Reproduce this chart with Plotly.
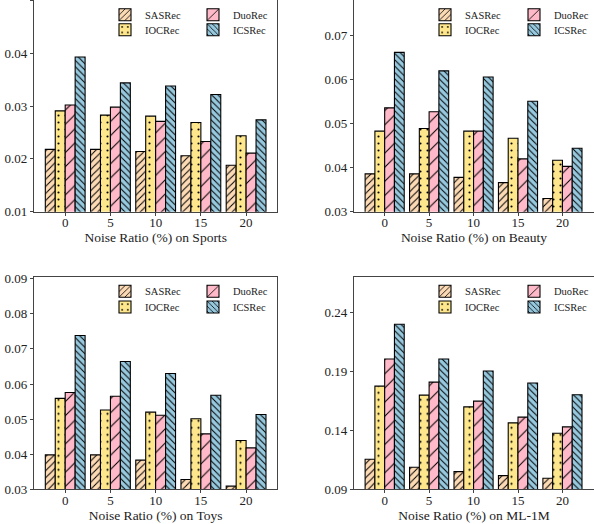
import plotly.graph_objects as go

noise_ratios = ["0", "5", "10", "15", "20"]
methods = ["SASRec", "IOCRec", "DuoRec", "ICSRec"]

sports = {
    "SASRec": [0.0218, 0.0218, 0.0214, 0.0206, 0.0188],
    "IOCRec": [0.0291, 0.0283, 0.0281, 0.0269, 0.0244],
    "DuoRec": [0.0302, 0.0298, 0.0271, 0.0233, 0.0211],
    "ICSRec": [0.0393, 0.0344, 0.0338, 0.0322, 0.0274],
}
beauty = {
    "SASRec": [0.0386, 0.0386, 0.0378, 0.0366, 0.0330],
    "IOCRec": [0.0483, 0.0489, 0.0483, 0.0467, 0.0417],
    "DuoRec": [0.0536, 0.0527, 0.0483, 0.0420, 0.0403],
    "ICSRec": [0.0662, 0.0620, 0.0606, 0.0551, 0.0444],
}
toys = {
    "SASRec": [0.0398, 0.0398, 0.0383, 0.0328, 0.0309],
    "IOCRec": [0.0559, 0.0526, 0.0520, 0.0501, 0.0439],
    "DuoRec": [0.0576, 0.0565, 0.0511, 0.0458, 0.0418],
    "ICSRec": [0.0738, 0.0664, 0.0630, 0.0568, 0.0513],
}
ml1m = {
    "SASRec": [0.1155, 0.1087, 0.1050, 0.1016, 0.0994],
    "IOCRec": [0.1776, 0.1700, 0.1600, 0.1464, 0.1376],
    "DuoRec": [0.2006, 0.1810, 0.1649, 0.1513, 0.1430],
    "ICSRec": [0.2301, 0.2006, 0.1904, 0.1802, 0.1703],
}

datasets = [("Sports", sports), ("Beauty", beauty), ("Toys", toys), ("ML-1M", ml1m)]
y_ranges = [[0.01, 0.0501], [0.03, 0.0781], [0.03, 0.0904], [0.09, 0.270]]
y_tick0 = [0.01, 0.03, 0.03, 0.09]
y_dtick = [0.01, 0.01, 0.01, 0.05]

colors = {"SASRec": "#FCDAB4", "IOCRec": "#FDE68C", "DuoRec": "#FFB9C8", "ICSRec": "#96C8DE"}
patterns = {
    "SASRec": dict(shape="/", size=5, solidity=0.2),
    "IOCRec": dict(shape=".", size=7, solidity=0.07),
    "DuoRec": dict(shape="/", size=10, solidity=0.1),
    "ICSRec": dict(shape="\\", size=4.5, solidity=0.22),
}

W, H = 594, 524
x_domains = [[34 / W, 277.3 / W], [354 / W, 1.0], [34 / W, 277.3 / W], [354 / W, 1.0]]
y_domains = [[1 - 211.7 / H, 1.0], [1 - 211.7 / H, 1.0],
             [1 - 489.3 / H, 1 - 277.3 / H], [1 - 489.3 / H, 1 - 277.3 / H]]
x_ranges = [[-0.69, 4.69], [-0.69, 4.71], [-0.69, 4.69], [-0.69, 4.71]]

# legend entry text start (px) per panel column, row centres (px) per panel
legend_cols = [(145, 233), (465, 554), (145, 233), (465, 554)]
legend_rows = [(14.7, 29.7), (14.7, 29.7), (291.3, 307), (291.3, 307)]
entry_slot = {"SASRec": (0, 0), "IOCRec": (0, 1), "DuoRec": (1, 0), "ICSRec": (1, 1)}

FONT = "Liberation Serif"
fig = go.Figure()
layout = dict(
    width=W, height=H,
    margin=dict(l=0, r=0, t=0, b=0, autoexpand=False),
    paper_bgcolor="white", plot_bgcolor="white",
    barmode="group", bargap=0.12, bargroupgap=0.0,
    font=dict(family=FONT, size=13, color="#222"),
    showlegend=True,
)

legend_count = 0
for i, (name, data) in enumerate(datasets):
    k = "" if i == 0 else str(i + 1)
    for m in methods:
        legend_count += 1
        leg = "legend" if legend_count == 1 else f"legend{legend_count}"
        fig.add_trace(go.Bar(
            x=noise_ratios, y=data[m], name=m,
            xaxis="x" + k, yaxis="y" + k,
            legend=leg,
            marker=dict(color=colors[m], line=dict(color="black", width=1.1),
                        pattern=dict(fgcolor="black", fgopacity=1, **patterns[m])),
        ))
        c, r = entry_slot[m]
        tx = legend_cols[i][c]
        ty = legend_rows[i][r]
        layout[leg] = dict(
            x=(tx - 40) / W, y=1 - ty / H, xanchor="left", yanchor="middle",
            orientation="v", bgcolor="rgba(0,0,0,0)", borderwidth=0,
            font=dict(family=FONT, size=10.5, color="#222"),
            itemwidth=30, tracegroupgap=0,
        )
    axis_common = dict(showline=True, mirror=True, linecolor="#444", linewidth=1.3,
                       ticks="outside", ticklen=3, tickcolor="#444", showgrid=False,
                       zeroline=False, tickfont=dict(family=FONT, size=13, color="#222"))
    layout["xaxis" + k] = dict(
        domain=x_domains[i], anchor="y" + k, type="category",
        range=x_ranges[i], ticklabelstandoff=-4,
        title=dict(text=f"Noise Ratio (%) on {name}", standoff=0,
                   font=dict(family=FONT, size=13.5, color="#222")),
        **axis_common)
    layout["yaxis" + k] = dict(
        domain=y_domains[i], anchor="x" + k, range=y_ranges[i],
        tick0=y_tick0[i], dtick=y_dtick[i], tickformat=".2f",
        **axis_common)

fig.update_layout(**layout)
fig.write_html("out.html", config={"displayModeBar": False},
               post_script="document.body.style.margin='0px';document.body.style.overflow='hidden';")
